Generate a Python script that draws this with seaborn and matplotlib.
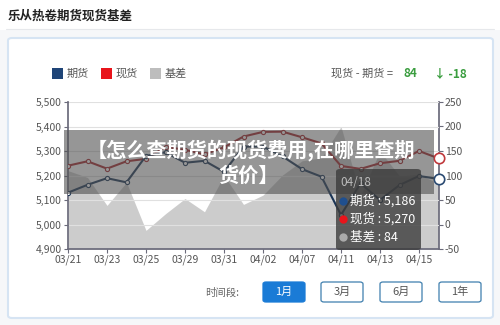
import matplotlib
matplotlib.use("Agg")
import matplotlib.pyplot as plt
from matplotlib.patches import FancyBboxPatch, Rectangle
import seaborn as sns
import pandas as pd

dates = ['03/21', '03/22', '03/23', '03/24', '03/25', '03/28', '03/29', '03/30', '03/31', '04/01',
         '04/02', '04/06', '04/07', '04/08', '04/11', '04/12', '04/13', '04/14', '04/15', '04/18']
futures = [5130, 5162, 5189, 5172, 5280, 5295, 5252, 5260, 5215, 5318,
           5318, 5278, 5226, 5195, 5039, 5168, 5100, 5161, 5198, 5186]
spot = [5240, 5258, 5228, 5258, 5268, 5317, 5305, 5286, 5315, 5359,
        5378, 5379, 5356, 5331, 5239, 5227, 5250, 5260, 5300, 5270]
basis = [110, 96, 39, 86, -12, 22, 53, 26, 100, 41,
         60, 101, 130, 136, 200, 59, 150, 99, 102, 84]
left_ticks = [4900, 5000, 5100, 5200, 5300, 5400, 5500]
right_ticks = [-50, 0, 50, 100, 150, 200, 250]

sns.set_theme(style="white")
plt.rcParams['font.family'] = ['Noto Sans CJK SC', 'DejaVu Sans']
plt.rcParams['axes.unicode_minus'] = False

df = pd.DataFrame({'idx': range(len(dates)), 'date': dates, 'futures': futures,
                   'spot': spot, 'basis': basis})

W, H = 500, 325
fig = plt.figure(figsize=(5, 3.25), dpi=100)
fig.patch.set_facecolor('#f6f7f9')

def fx(x):
    return x / W

def fy(y):
    return 1 - y / H

# header
fig.patches.append(Rectangle((0, fy(30)), 1, 30 / H, transform=fig.transFigure,
                             facecolor='white', edgecolor='none', zorder=-2))
fig.text(fx(8), fy(16), '乐从热卷期货现货基差', fontsize=9, fontweight='bold',
         color='#222222', va='center', ha='left')
fig.lines.append(plt.Line2D([fx(6), fx(494)], [fy(29), fy(29)], transform=fig.transFigure,
                            color='#e6e8eb', lw=0.8, zorder=-1))
# card
fig.patches.append(FancyBboxPatch((fx(8), fy(318)), fx(485), (318 - 38) / H,
                                  boxstyle='round,pad=0,rounding_size=0.008',
                                  transform=fig.transFigure, facecolor='white',
                                  edgecolor='#d6e4f3', lw=1.5, zorder=-2))

# legend
leg_items = [('期货', '#1f4578', 52), ('现货', '#e8141b', 101), ('基差', '#bdbdbd', 150)]
for lab, col, x in leg_items:
    fig.patches.append(Rectangle((fx(x), fy(79)), fx(11), 11 / H, transform=fig.transFigure,
                                 facecolor=col, edgecolor='none'))
    fig.text(fx(x + 15), fy(73.5), lab, fontsize=8, color='#555555', va='center', ha='left')
fig.text(fx(331), fy(73.5), '现货 - 期货 =', fontsize=8, color='#555555', va='center', ha='left')
fig.text(fx(404), fy(73.5), '84', fontsize=8.5, color='#3a9d3f', fontweight='bold', va='center', ha='left')
fig.text(fx(434), fy(73.5), '↓ -18', fontsize=8.5, color='#3a9d3f', fontweight='bold', va='center', ha='left')

# axes: host = price (left), twin = basis (right)
ax = fig.add_axes([fx(68), fy(249), fx(438.5 - 68), (249 - 102) / H])
ax2 = ax.twinx()

ax2.fill_between(df['idx'], -50, df['basis'], color='#c4c4c4', alpha=0.85, lw=0, zorder=1)
ax2.set_ylim(-50, 250)
ax2.set_yticks(right_ticks)
ax2.set_ylabel('')

for v in left_ticks[1:]:
    ax.axhline(v, color='#e0e0e0', lw=0.8, zorder=0)

sns.lineplot(data=df, x='idx', y='spot', ax=ax, color='#a8282c', lw=1.5, marker='o',
             markersize=3, markerfacecolor='white', markeredgecolor='#a8282c', markeredgewidth=0.8,
             zorder=3)
sns.lineplot(data=df, x='idx', y='futures', ax=ax, color='#1b3556', lw=1.5, marker='o',
             markersize=3, markerfacecolor='white', markeredgecolor='#1b3556', markeredgewidth=0.8,
             zorder=4)
last = len(dates) - 1
ax.plot([last], [spot[-1]], 'o', ms=7.5, mfc='white', mec='#c0393c', mew=1.2, zorder=5, clip_on=False)
ax.plot([last], [futures[-1]], 'o', ms=7.5, mfc='white', mec='#2a4a72', mew=1.2, zorder=5, clip_on=False)

ax.set_ylim(4900, 5500)
ax.set_yticks(left_ticks)
ax.set_yticklabels([f'{v:,}' for v in left_ticks])
ax.set_xlim(0, last)
ax.set_xticks(range(0, len(dates), 2))
ax.set_xticklabels(dates[::2])
ax.set_xlabel('')
ax.set_ylabel('')

for a in (ax, ax2):
    for s in a.spines.values():
        s.set_visible(False)
ax.spines['left'].set_visible(True)
ax.spines['left'].set_color('#6b6b7b')
ax.spines['bottom'].set_visible(True)
ax.spines['bottom'].set_color('#6b6b7b')
ax2.spines['right'].set_visible(True)
ax2.spines['right'].set_color('#6b6b7b')
ax.tick_params(axis='y', left=True, right=False, labelsize=7.5, colors='#6b6b7b',
               labelcolor='#555555', length=3, width=0.8, pad=1.5)
ax.tick_params(axis='x', bottom=True, labelsize=7.5, colors='#6b6b7b',
               labelcolor='#555555', length=3, width=0.8, pad=1)
ax2.tick_params(axis='y', right=True, left=False, labelsize=7.5, colors='#6b6b7b',
                labelcolor='#555555', length=3, width=0.8, pad=1.5)
ax2.set_zorder(0)
ax.set_zorder(1)
ax.patch.set_visible(False)
ax2.patch.set_visible(True)
ax2.patch.set_facecolor('white')

# banner overlay
fig.patches.append(Rectangle((fx(64), fy(194)), fx(370), 64 / H, transform=fig.transFigure,
                             facecolor='#505050', alpha=0.6, edgecolor='none', zorder=10))
fig.text(fx(251), fy(150), '【怎么查期货的现货费用,在哪里查期', fontsize=14.5, fontweight='bold',
         color='white', ha='center', va='center', zorder=11)
fig.text(fx(249), fy(175), '货价】', fontsize=14.5, fontweight='bold',
         color='white', ha='center', va='center', zorder=11)

# tooltip
fig.patches.append(FancyBboxPatch((fx(336), fy(250)), fx(85), 81 / H,
                                  boxstyle='round,pad=0,rounding_size=0.008',
                                  transform=fig.transFigure, facecolor='#3c3c3c', alpha=0.8,
                                  edgecolor='none', zorder=12))
fig.text(fx(340), fy(183), '04/18', fontsize=8.5, color='#bbbbbb', ha='left', va='center', zorder=13)
tips = [('期货 : 5,186', '#1f4f8f', 201), ('现货 : 5,270', '#e8141b', 219), ('基差 : 84', '#aaaaaa', 237)]
for t, c, y in tips:
    fig.lines.append(plt.Line2D([fx(343)], [fy(y)], transform=fig.transFigure, marker='o',
                                ms=6, mfc=c, mec='none', ls='none', zorder=13))
    fig.text(fx(350), fy(y), t, fontsize=9, color='white', ha='left', va='center', zorder=13)

# period buttons
fig.text(fx(205), fy(293), '时间段:', fontsize=7.5, color='#666666', ha='left', va='center')
buttons = [('1月', 263, True), ('3月', 321, False), ('6月', 380, False), ('1年', 439, False)]
for lab, x, active in buttons:
    fig.patches.append(FancyBboxPatch((fx(x), fy(302)), fx(42), 20 / H,
                                      boxstyle='round,pad=0,rounding_size=0.006',
                                      transform=fig.transFigure,
                                      facecolor='#1a7bd6' if active else 'white',
                                      edgecolor='#1a7bd6' if active else '#3f7fae', lw=0.9))
    fig.text(fx(x + 21), fy(292), lab, fontsize=8, color='white' if active else '#555555',
             ha='center', va='center')

fig.savefig('out.png', dpi=100, facecolor=fig.get_facecolor())
